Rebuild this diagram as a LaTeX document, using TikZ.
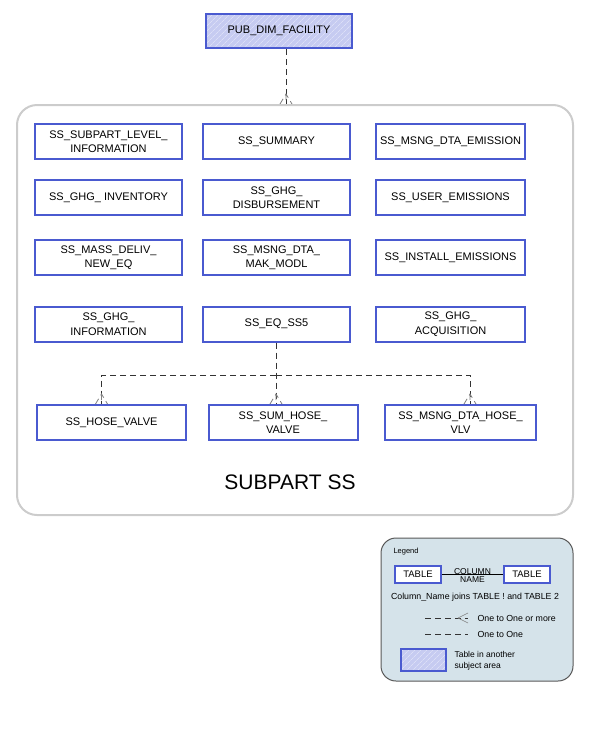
\documentclass[tikz,border=0pt]{standalone}
\usepackage{fontspec}
\setmainfont{Liberation Sans}
\usepackage{tikz}
\usetikzlibrary{patterns.meta,arrows.meta}
\definecolor{tblue}{HTML}{4A5AD0}
\definecolor{tfill}{HTML}{C6CBF1}
\definecolor{hatch}{HTML}{DCDFF7}
\definecolor{areagray}{HTML}{CCCCCC}
\definecolor{legfill}{HTML}{D5E3EA}
\tikzset{
  tbl/.style={draw=tblue, line width=2pt, fill=white, minimum width=147, minimum height=35,
    align=center, inner sep=1pt, font=\fontsize{11}{14.5}\selectfont},
  exttbl/.style={tbl, fill=none, preaction={fill=tfill},
    preaction={pattern={Lines[angle=45, distance=4pt, line width=0.8pt]}, pattern color=hatch}},
  rel/.style={draw=black!80, line width=0.8pt, dash pattern=on 6pt off 4pt},
  foot/.pic={\draw[gray, line width=0.8pt] (-6,0) -- (0,-10) -- (6,0) (0,-10) -- (0,0);}
}
\begin{document}
\begin{tikzpicture}[x=1pt, y=-1pt]
    \useasboundingbox (0,0) rectangle (591,750);
    %TOP TABLE
    \node[exttbl, minimum width=146, minimum height=34] (pub) at (279,31) {PUB\_DIM\_FACILITY};
    %SUBJECT AREA
    \node[draw=areagray, line width=2pt, rounded corners=20pt, minimum width=556, minimum height=410] (area) at (295,310) {};
    \node[font=\fontsize{21}{24}\selectfont] (arealabel) at (290,482) {SUBPART SS};
    \draw[rel] ([xshift=7]pub.south) -- ([xshift=7]pub.south |- area.north) pic{foot};
    %TABLES
    \node[tbl] (sublevel) at (108.5,141.5) {SS\_SUBPART\_LEVEL\_\\INFORMATION};
    \node[tbl] (summary) at (276.5,141.5) {SS\_SUMMARY};
    \node[tbl, minimum width=149] (msngemis) at (450.5,141.5) {SS\_MSNG\_DTA\_EMISSION};
    \node[tbl] (inventory) at (108.5,197.5) {SS\_GHG\_ INVENTORY};
    \node[tbl] (disburse) at (276.5,197.5) {SS\_GHG\_\\DISBURSEMENT};
    \node[tbl, minimum width=149] (useremis) at (450.5,197.5) {SS\_USER\_EMISSIONS};
    \node[tbl] (massdeliv) at (108.5,257.5) {SS\_MASS\_DELIV\_\\NEW\_EQ};
    \node[tbl] (makmodl) at (276.5,257.5) {SS\_MSNG\_DTA\_\\MAK\_MODL};
    \node[tbl, minimum width=149] (installemis) at (450.5,257.5) {SS\_INSTALL\_EMISSIONS};
    \node[tbl] (ghginfo) at (108.5,324) {SS\_GHG\_\\INFORMATION};
    \node[tbl] (eqss5) at (276.5,324) {SS\_EQ\_SS5};
    \node[tbl, minimum width=149] (acquis) at (450.5,324) {SS\_GHG\_\\ACQUISITION};
    \node[tbl, minimum width=149] (hose) at (111.5,422.5) {SS\_HOSE\_VALVE};
    \node[tbl, minimum width=149] (sumhose) at (283,422.5) {SS\_SUM\_HOSE\_\\VALVE};
    \node[tbl, minimum width=151] (msnghose) at (460.5,422.5) {SS\_MSNG\_DTA\_HOSE\_\\VLV};
    %RELATIONS
    \coordinate (split) at ([xshift=-0.5]eqss5.south |- 0,375);
    \draw[rel] ([xshift=-0.5]eqss5.south) -- ([xshift=-0.5]eqss5.south |- sumhose.north) pic{foot};
    \draw[rel] (split) -| ([xshift=-10]hose.north) pic{foot};
    \draw[rel] (split) -| ([xshift=9.5]msnghose.north) pic{foot};
    %LEGEND
    \node[draw=black!65, fill=legfill, line width=1pt, rounded corners=15pt, minimum width=192, minimum height=143] (legend) at (477,609.5) {};
    \node[font=\fontsize{7.5}{9}\selectfont, anchor=west] (leghead) at (390,552) {Legend};
    \node[tbl, minimum width=46, minimum height=17, font=\fontsize{9.5}{10}\selectfont] (lt1) at (418,574.5) {TABLE};
    \node[tbl, minimum width=46, minimum height=17, font=\fontsize{9.5}{10}\selectfont] (lt2) at (527,574.5) {TABLE};
    \draw[line width=0.7pt] (lt1) -- (lt2)
        node[midway, above, inner sep=0pt, font=\fontsize{8.5}{9}\selectfont] (colname) {COLUMN}
        node[midway, below, inner sep=1.5pt, font=\fontsize{8.5}{9}\selectfont] (colname2) {NAME};
    \node[font=\fontsize{8.8}{10}\selectfont] (legtext) at (475,597) {Column\_Name joins TABLE ! and TABLE 2};
    \coordinate (many1) at (425,618);
    \coordinate (many2) at (468,618);
    \coordinate (one1) at (425,634);
    \coordinate (one2) at (468,634);
    \draw[rel, line width=0.6pt] (many1) -- (many2);
    \draw[gray, line width=0.6pt] ([xshift=-10]many2) -- ([yshift=-5]many2) ([xshift=-10]many2) -- ([yshift=5]many2);
    \draw[rel, line width=0.6pt] (one1) -- (one2);
    \node[anchor=west, font=\fontsize{8.8}{10}\selectfont] (manytext) at (474,618) {One to One or more};
    \node[anchor=west, font=\fontsize{8.8}{10}\selectfont] (onetext) at (474,634) {One to One};
    \node[exttbl, minimum width=45, minimum height=22] (legext) at (423.5,660) {};
    \node[anchor=west, align=left, font=\fontsize{8.5}{11}\selectfont] (exttext) at (451,661) {Table in another\\subject area};
\end{tikzpicture}
\end{document}
